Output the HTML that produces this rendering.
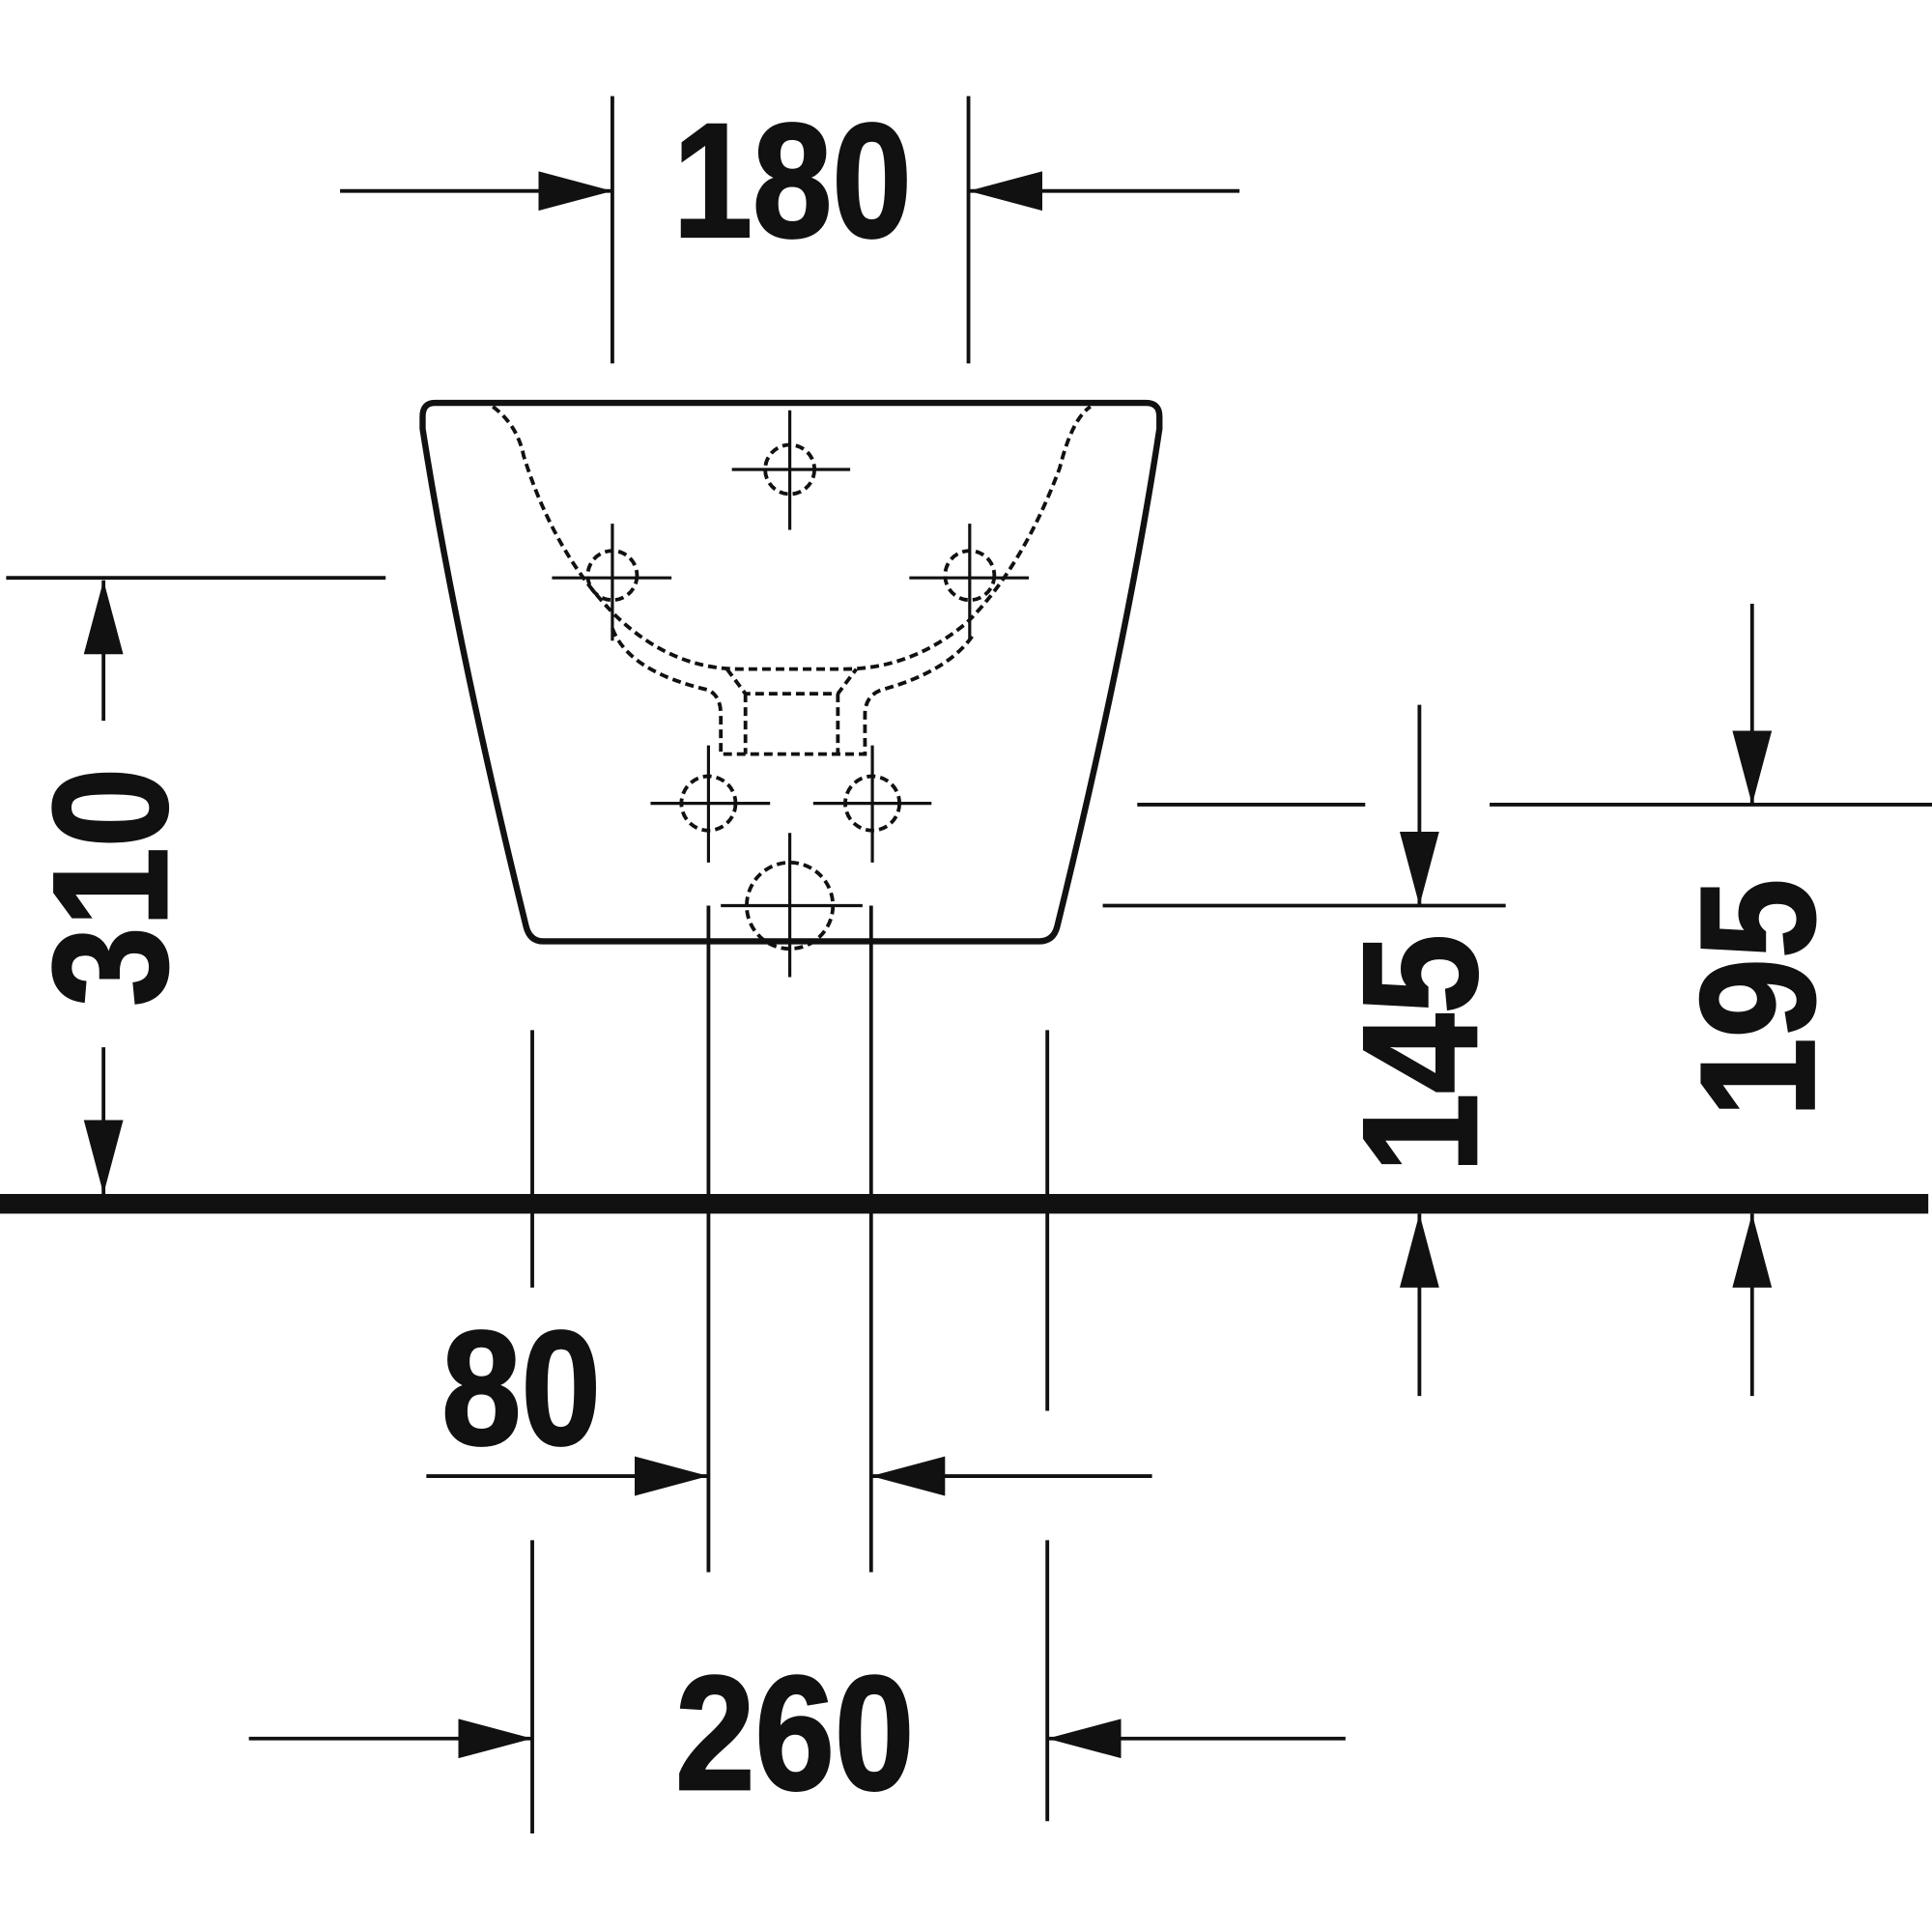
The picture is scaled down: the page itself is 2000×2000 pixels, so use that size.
<!DOCTYPE html>
<html><head><style>html,body{margin:0;padding:0;background:#fff}svg{display:block}</style></head>
<body>
<svg width="2000" height="2000" viewBox="0 0 1568 1568" xmlns="http://www.w3.org/2000/svg">
<defs>
<marker id="a" viewBox="0 0 60 32" refX="60" refY="16" markerWidth="60" markerHeight="32" markerUnits="userSpaceOnUse" orient="auto"><path d="M0,0 L60,16 L0,32 Z" fill="#111"/></marker>
</defs>
<g stroke="#111" stroke-width="3" fill="none">
<line x1="497" y1="78" x2="497" y2="295"/>
<line x1="786" y1="78" x2="786" y2="295"/>
<line x1="276" y1="155" x2="497" y2="155" marker-end="url(#a)"/>
<line x1="1006" y1="155" x2="786" y2="155" marker-end="url(#a)"/>
<line x1="5" y1="469" x2="313" y2="469"/>
<line x1="84" y1="585" x2="84" y2="471" marker-end="url(#a)"/>
<line x1="84" y1="850" x2="84" y2="969" marker-end="url(#a)"/>
<line x1="432" y1="836" x2="432" y2="1045"/>
<line x1="432" y1="1250" x2="432" y2="1488"/>
<line x1="850" y1="836" x2="850" y2="1145"/>
<line x1="850" y1="1250" x2="850" y2="1478"/>
<line x1="575" y1="735" x2="575" y2="1276"/>
<line x1="707" y1="735" x2="707" y2="1276"/>
<line x1="346" y1="1198" x2="575" y2="1198" marker-end="url(#a)"/>
<line x1="935" y1="1198" x2="707" y2="1198" marker-end="url(#a)"/>
<line x1="202" y1="1411" x2="432" y2="1411" marker-end="url(#a)"/>
<line x1="1092" y1="1411" x2="850" y2="1411" marker-end="url(#a)"/>
<line x1="923" y1="653" x2="1108" y2="653"/>
<line x1="1209" y1="653" x2="1568" y2="653"/>
<line x1="895" y1="735" x2="1222" y2="735"/>
<line x1="1152" y1="572" x2="1152" y2="735" marker-end="url(#a)"/>
<line x1="1152" y1="1133" x2="1152" y2="985" marker-end="url(#a)"/>
<line x1="1422" y1="490" x2="1422" y2="653" marker-end="url(#a)"/>
<line x1="1422" y1="1133" x2="1422" y2="985" marker-end="url(#a)"/>
<path stroke-width="5" d="M353,327 L930,327 Q941,327 941,338 L941,348 Q915,520 858,752 Q855,764 843,764 L441,764 Q430,764 427,752 Q370,520 343,348 L343,338 Q343,327 353,327 Z"/>
<g stroke-width="3" stroke-dasharray="7,4">
<path d="M400,330 Q420,345 425,370 Q450,450 500,500 Q545,543 600,543 L685,543 Q740,543 785,505 Q830,460 860,380 Q870,340 885,330"/>
<path d="M497,510 Q510,545 575,560 Q585,565 585,580 L585,612 L702,612 L702,580 Q702,565 715,560 Q770,545 790,515"/>
<path d="M590,543 L605,563 L680,563 L695,543"/>
<path d="M605,563 L605,612 M680,563 L680,612"/>
<circle cx="641" cy="381" r="20"/>
<circle cx="497" cy="467" r="20"/>
<circle cx="787" cy="467" r="20"/>
<circle cx="575" cy="652" r="22"/>
<circle cx="708" cy="652" r="22"/>
<circle cx="641" cy="735" r="35"/>
</g>
<g stroke-width="2.5">
<line x1="594" y1="381" x2="690" y2="381"/><line x1="641" y1="333" x2="641" y2="430"/>
<line x1="448" y1="469" x2="545" y2="469"/><line x1="497" y1="425" x2="497" y2="520"/>
<line x1="738" y1="469" x2="835" y2="469"/><line x1="787" y1="425" x2="787" y2="520"/>
<line x1="528" y1="652" x2="625" y2="652"/><line x1="575" y1="605" x2="575" y2="700"/>
<line x1="660" y1="652" x2="756" y2="652"/><line x1="708" y1="605" x2="708" y2="700"/>
<line x1="585" y1="735" x2="700" y2="735"/><line x1="641" y1="676" x2="641" y2="793"/>
</g>
<line x1="0" y1="977" x2="1565" y2="977" stroke-width="16"/>
</g>
<g font-family="Liberation Sans, sans-serif" font-weight="bold" font-size="132" fill="#111" stroke="#111" stroke-width="2" text-anchor="middle">
<text transform="translate(643,192) scale(0.88,1)">180</text>
<text transform="translate(423,1172) scale(0.88,1)">80</text>
<text transform="translate(645,1452) scale(0.88,1)">260</text>
<text transform="translate(135,720) rotate(-90) scale(0.88,1)">310</text>
<text transform="translate(1198,855) rotate(-90) scale(0.88,1)">145</text>
<text transform="translate(1472,810) rotate(-90) scale(0.88,1)">195</text>
</g>
</svg>
</body></html>
